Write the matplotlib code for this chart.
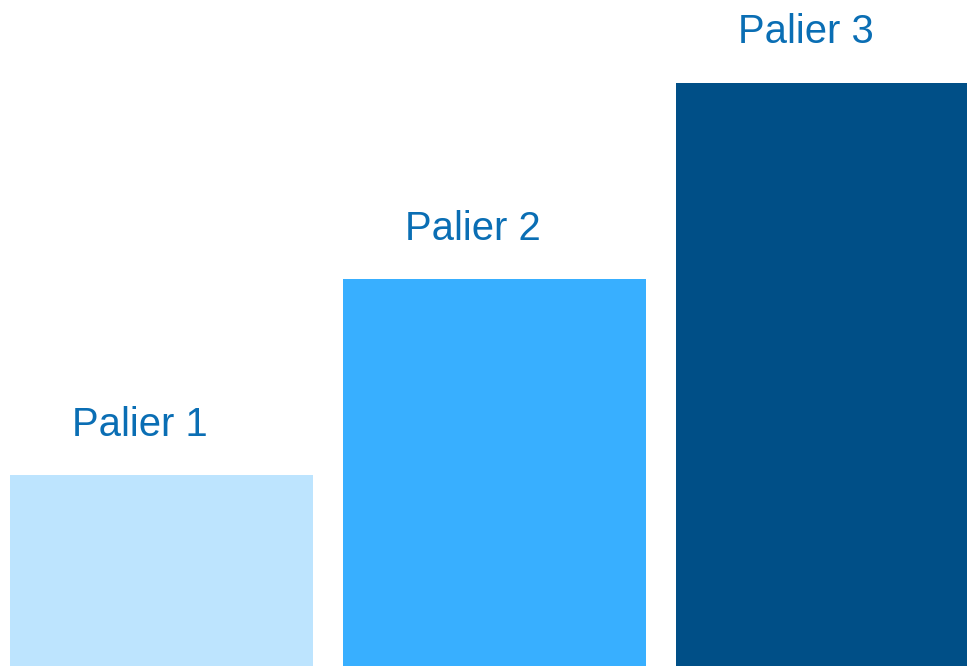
import matplotlib
matplotlib.use("Agg")
import matplotlib.pyplot as plt

# Tier data
labels = ["Palier 1", "Palier 2", "Palier 3"]
values = [1, 2, 3]
colors = ["#BDE4FE", "#38AFFF", "#004F87"]

fig = plt.figure(figsize=(9.67, 6.66), dpi=100)
ax = fig.add_axes([0, 0, 1, 1])

x = list(range(len(values)))
ax.bar(x, values, width=0.91, color=colors)

# Labels above each bar, slightly left of centre
for xi, v, lab in zip(x, values, labels):
    ax.text(xi - 0.065, v + 0.2, lab, ha="center", va="baseline",
            fontsize=28.8, color="#0A6EB4", family="Liberation Sans")

ax.set_xlim(-0.485, 2.419)
ax.set_ylim(0.03, 3.42)
ax.axis("off")

fig.savefig("out.png", dpi=100)
